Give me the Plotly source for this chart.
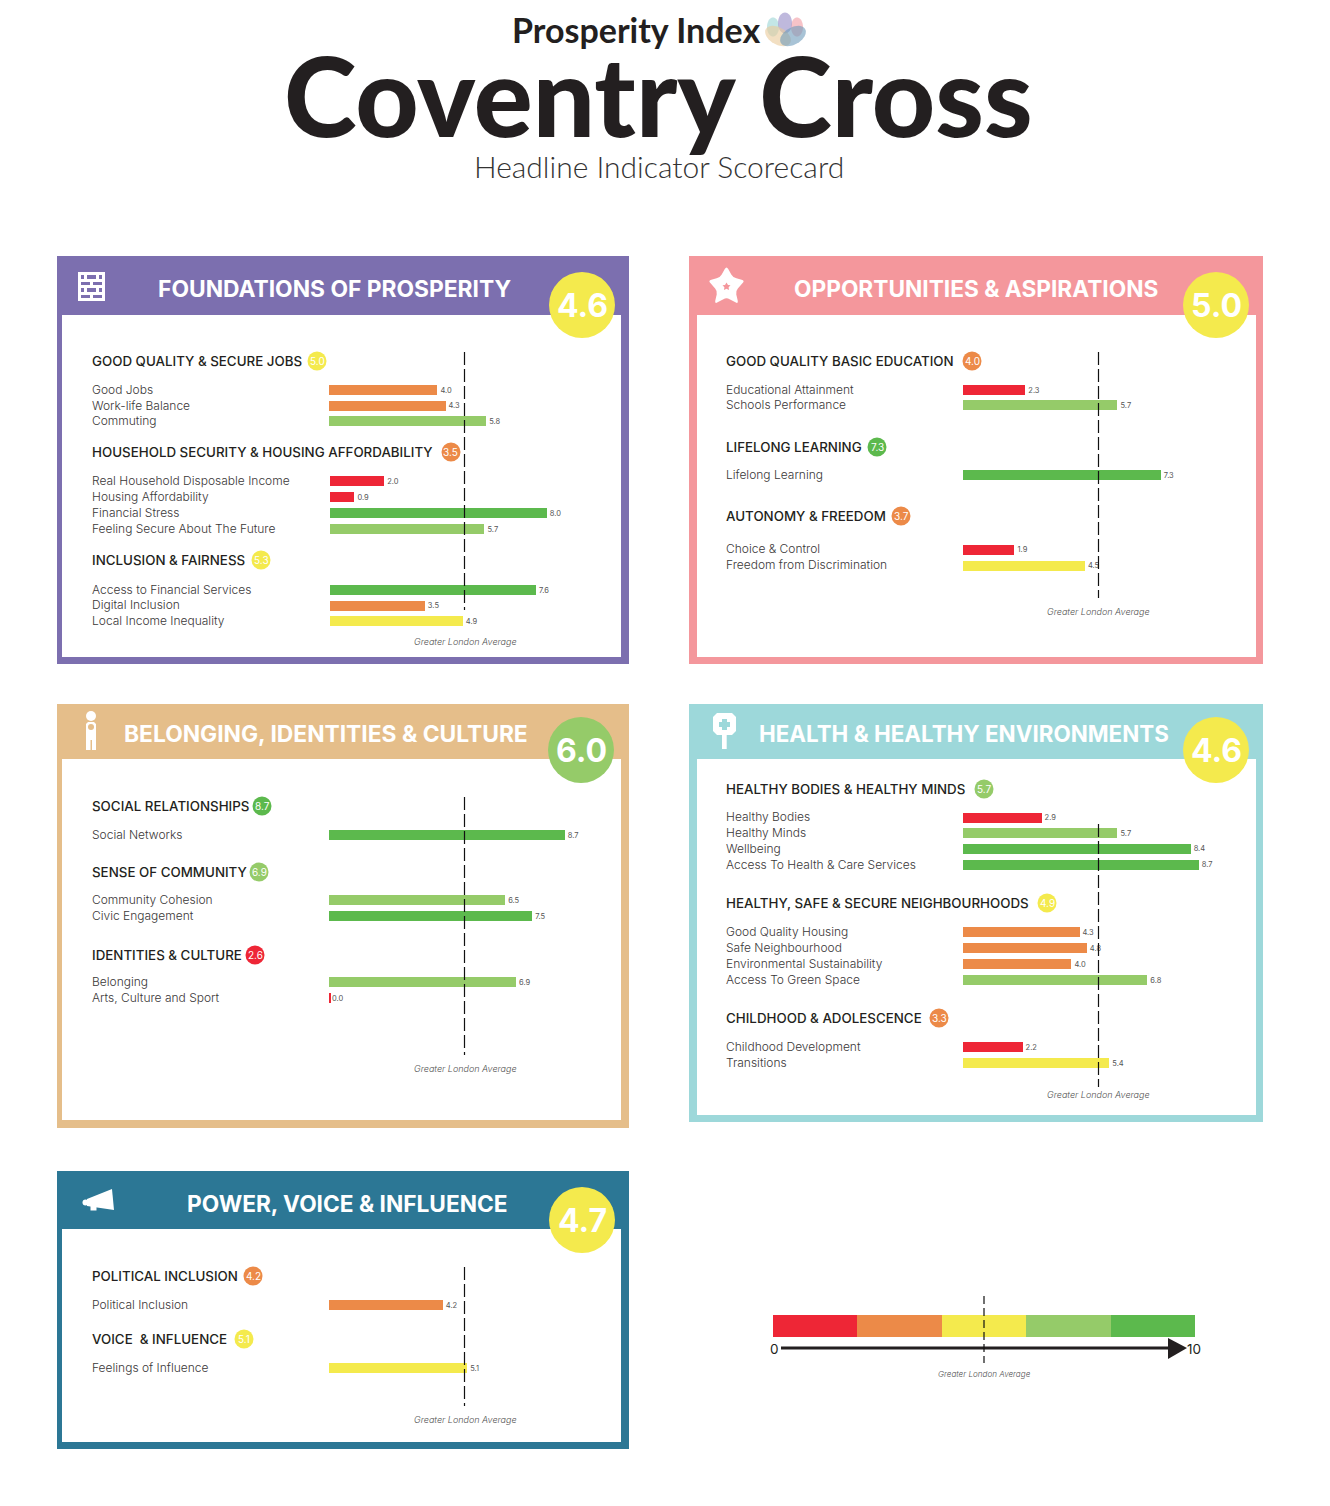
import math
import plotly.graph_objects as go

# ---- data ----
BAND = {"R": "#EE2636", "O": "#EC8A48", "Y": "#F4EA4D", "L": "#95CB69", "G": "#5CB94D"}

PANEL_TITLES = ["FOUNDATIONS OF PROSPERITY", "OPPORTUNITIES & ASPIRATIONS", "BELONGING, IDENTITIES & CULTURE",
                "HEALTH & HEALTHY ENVIRONMENTS", "POWER, VOICE & INFLUENCE"]
PANEL_SCORES = [4.6, 5.0, 6.0, 4.6, 4.7]
PANEL_SCORE_BANDS = ["Y", "Y", "L", "Y", "Y"]

JOBS_ROWS = ["Good Jobs", "Work-life Balance", "Commuting"]
JOBS_VALUES = [4.0, 4.3, 5.8]
JOBS_BANDS = ["O", "O", "L"]
HOUSE_ROWS = ["Real Household Disposable Income", "Housing Affordability", "Financial Stress", "Feeling Secure About The Future"]
HOUSE_VALUES = [2.0, 0.9, 8.0, 5.7]
HOUSE_BANDS = ["R", "R", "G", "L"]
FAIR_ROWS = ["Access to Financial Services", "Digital Inclusion", "Local Income Inequality"]
FAIR_VALUES = [7.6, 3.5, 4.9]
FAIR_BANDS = ["G", "O", "Y"]

EDU_ROWS = ["Educational Attainment", "Schools Performance"]
EDU_VALUES = [2.3, 5.7]
EDU_BANDS = ["R", "L"]
LEARN_ROWS = ["Lifelong Learning"]
LEARN_VALUES = [7.3]
LEARN_BANDS = ["G"]
AUTO_ROWS = ["Choice & Control", "Freedom from Discrimination"]
AUTO_VALUES = [1.9, 4.5]
AUTO_BANDS = ["R", "Y"]

SOCIAL_ROWS = ["Social Networks"]
SOCIAL_VALUES = [8.7]
SOCIAL_BANDS = ["G"]
COMM_ROWS = ["Community Cohesion", "Civic Engagement"]
COMM_VALUES = [6.5, 7.5]
COMM_BANDS = ["L", "G"]
IDENT_ROWS = ["Belonging", "Arts, Culture and Sport"]
IDENT_VALUES = [6.9, 0.0]
IDENT_BANDS = ["L", "R"]

BODY_ROWS = ["Healthy Bodies", "Healthy Minds", "Wellbeing", "Access To Health & Care Services"]
BODY_VALUES = [2.9, 5.7, 8.4, 8.7]
BODY_BANDS = ["R", "L", "G", "G"]
SAFE_ROWS = ["Good Quality Housing", "Safe Neighbourhood", "Environmental Sustainability", "Access To Green Space"]
SAFE_VALUES = [4.3, 4.57, 4.0, 6.8]
SAFE_BANDS = ["O", "O", "O", "L"]
CHILD_ROWS = ["Childhood Development", "Transitions"]
CHILD_VALUES = [2.2, 5.4]
CHILD_BANDS = ["R", "Y"]

POL_ROWS = ["Political Inclusion"]
POL_VALUES = [4.2]
POL_BANDS = ["O"]
VOICE_ROWS = ["Feelings of Influence"]
VOICE_VALUES = [5.1]
VOICE_BANDS = ["Y"]

# printed label differs from the drawn bar length
LABEL_OVERRIDES = {"Safe Neighbourhood": "4.8"}

LEGEND_STEPS = [2, 2, 2, 2, 2]
LEGEND_BANDS = ["R", "O", "Y", "L", "G"]
GREATER_LONDON_AVERAGE = 5.0

# ---- layout in page pixels ----
W, H = 1330, 1506
PX_PER_UNIT = 27.1
INK = "#231F20"
BODY = "#3A3738"
HEAD_FONT = "Inter"
BIG_FONT = "Lato"

def fx(x): return x / W
def fy(y): return 1 - y / H

PANELS = [
    dict(color="#7C6FAF", outer=(57, 256, 629, 664), inner=(62, 315, 621, 657), cx=334.5, ty=288, circ=(582, 305),
         dash=(352, 610), foot=(465, 641.5), x0=329, tx=91, tsize=22.8),
    dict(color="#F4979C", outer=(689, 256, 1263, 664), inner=(697, 315, 1256, 657), cx=976, ty=288, circ=(1216, 305),
         dash=(352, 598), foot=(1098.5, 611.5), x0=963, tx=724.5, tsize=22.7),
    dict(color="#E5BE8A", outer=(57, 704, 629, 1128), inner=(62, 759, 621, 1120), cx=325.5, ty=733, circ=(581, 750),
         dash=(797, 1055), foot=(465, 1068.5), x0=329, tx=91, tsize=22.8),
    dict(color="#9DD8DA", outer=(689, 704, 1263, 1122), inner=(697, 759, 1256, 1115), cx=964, ty=733, circ=(1216, 750),
         dash=(824, 1087), foot=(1098.5, 1094.5), x0=963, tx=724.5, tsize=22.4),
    dict(color="#2C7795", outer=(57, 1171, 629, 1449), inner=(62, 1229, 621, 1442), cx=347.5, ty=1203, circ=(582, 1220),
         dash=(1267, 1406), foot=(465, 1419.5), x0=329, tx=91, tsize=22.7),
]

# panel, heading, score, score band, rows, values, bands, heading y, bubble x, first row y, row pitch, x shift
GROUPS = [
    (0, "GOOD QUALITY & SECURE JOBS", 5.0, "Y", JOBS_ROWS, JOBS_VALUES, JOBS_BANDS, 361, 317, 390, 15.6, 0),
    (0, "HOUSEHOLD SECURITY & HOUSING AFFORDABILITY", 3.5, "O", HOUSE_ROWS, HOUSE_VALUES, HOUSE_BANDS, 452, 451, 481, 16, 1),
    (0, "INCLUSION & FAIRNESS", 5.3, "Y", FAIR_ROWS, FAIR_VALUES, FAIR_BANDS, 560, 261, 590, 15.5, 1),
    (1, "GOOD QUALITY BASIC EDUCATION", 4.0, "O", EDU_ROWS, EDU_VALUES, EDU_BANDS, 361, 972, 390, 15, 0),
    (1, "LIFELONG LEARNING", 7.3, "G", LEARN_ROWS, LEARN_VALUES, LEARN_BANDS, 447, 877, 475, 16, 0),
    (1, "AUTONOMY & FREEDOM", 3.7, "O", AUTO_ROWS, AUTO_VALUES, AUTO_BANDS, 516, 901, 549.5, 16, 0),
    (2, "SOCIAL RELATIONSHIPS", 8.7, "G", SOCIAL_ROWS, SOCIAL_VALUES, SOCIAL_BANDS, 806, 262, 835, 16, 0),
    (2, "SENSE OF COMMUNITY", 6.9, "L", COMM_ROWS, COMM_VALUES, COMM_BANDS, 872, 259, 900, 16, 0),
    (2, "IDENTITIES & CULTURE", 2.6, "R", IDENT_ROWS, IDENT_VALUES, IDENT_BANDS, 955, 255, 982, 16, 0),
    (3, "HEALTHY BODIES & HEALTHY MINDS", 5.7, "L", BODY_ROWS, BODY_VALUES, BODY_BANDS, 789, 984, 817.5, 15.7, 0),
    (3, "HEALTHY, SAFE & SECURE NEIGHBOURHOODS", 4.9, "Y", SAFE_ROWS, SAFE_VALUES, SAFE_BANDS, 903, 1047, 932, 16, 0),
    (3, "CHILDHOOD & ADOLESCENCE", 3.3, "O", CHILD_ROWS, CHILD_VALUES, CHILD_BANDS, 1018, 939, 1047, 16, 0),
    (4, "POLITICAL INCLUSION", 4.2, "O", POL_ROWS, POL_VALUES, POL_BANDS, 1276, 253, 1305, 16, 0),
    (4, "VOICE  & INFLUENCE", 5.1, "Y", VOICE_ROWS, VOICE_VALUES, VOICE_BANDS, 1339, 244, 1368, 16, 0),
]

fig = go.Figure()
shapes, annos = [], []

def note(text, x, y, size, color=INK, anchor="center", family=HEAD_FONT, weight=400, style="normal", yref="paper"):
    annos.append(dict(text=text, xref="paper", x=fx(x), yref=yref, y=(fy(y) if yref == "paper" else None),
                      xanchor=anchor, yanchor="middle", showarrow=False, borderpad=0,
                      font=dict(family=family, size=size, color=color, weight=weight, style=style)))

def rect(x0, y0, x1, y1, color, layer="above"):
    shapes.append(dict(type="rect", xref="paper", yref="paper", x0=fx(x0), x1=fx(x1), y0=fy(y0), y1=fy(y1),
                       fillcolor=color, line_width=0, layer=layer))

def circle(cx, cy, r, color, ry=None):
    ry = ry or r
    shapes.append(dict(type="circle", xref="paper", yref="paper", x0=fx(cx - r), x1=fx(cx + r), y0=fy(cy - ry), y1=fy(cy + ry),
                       fillcolor=color, line_width=0, layer="above"))

def path(points, color, opacity=1.0, rounded=0.0):
    if rounded:
        d, n = "", len(points)
        for i, (x, y) in enumerate(points):
            px_, py_ = points[i - 1]
            nx, ny = points[(i + 1) % n]
            a = math.hypot(px_ - x, py_ - y)
            b = math.hypot(nx - x, ny - y)
            r = min(rounded, a / 2, b / 2)
            s = (x + (px_ - x) * r / a, y + (py_ - y) * r / a)
            e = (x + (nx - x) * r / b, y + (ny - y) * r / b)
            d += ("L" if i else "M") + f"{fx(s[0]):.5f},{fy(s[1]):.5f}"
            d += f" Q{fx(x):.5f},{fy(y):.5f} {fx(e[0]):.5f},{fy(e[1]):.5f} "
        d += "Z"
    else:
        d = "M" + " L".join(f"{fx(x):.5f},{fy(y):.5f}" for x, y in points) + " Z"
    shapes.append(dict(type="path", path=d, xref="paper", yref="paper", fillcolor=color, line_width=0,
                       opacity=opacity, layer="above"))

def ellipse(cx, cy, rx, ry, deg, color, opacity):
    t = math.radians(deg)
    pts = []
    for k in range(40):
        a = 2 * math.pi * k / 40
        u, v = rx * math.cos(a), ry * math.sin(a)
        pts.append((cx + u * math.cos(t) - v * math.sin(t), cy + u * math.sin(t) + v * math.cos(t)))
    path(pts, color, opacity)

# panels
for p, title, score, band in zip(PANELS, PANEL_TITLES, PANEL_SCORES, PANEL_SCORE_BANDS):
    o, i = p["outer"], p["inner"]
    rect(*o, p["color"], "below")
    rect(*i, "#FFFFFF", "below")
    note(title, p["cx"], p["ty"], p["tsize"], "#FFFFFF", weight=700)
    circle(*p["circ"], 33, BAND[band])
    note(f"{score:.1f}", p["circ"][0], p["circ"][1], 32, "#FFFFFF", weight=700)
    note("Greater London Average", p["foot"][0], p["foot"][1], 9.0, "#555555", weight=300, style="italic")

# groups
first_axis_of_panel = {}
axes = {}
for n, (pi, head, score, band, rows, values, bands, hy, bx, ry0, pitch, shift) in enumerate(GROUPS, start=1):
    p = PANELS[pi]
    suffix = "" if n == 1 else str(n)
    x0 = p["x0"] + shift
    top = ry0 - pitch / 2
    bottom = ry0 + pitch * (len(rows) - 0.5)
    axes[f"xaxis{suffix}"] = dict(domain=[fx(x0), fx(x0 + PX_PER_UNIT * 10)], range=[0, 10], visible=False,
                                  fixedrange=True, anchor=f"y{suffix}")
    axes[f"yaxis{suffix}"] = dict(domain=[fy(bottom), fy(top)], type="category", categoryarray=rows,
                                  categoryorder="array", range=[len(rows) - 0.5, -0.5], visible=False,
                                  fixedrange=True, anchor=f"x{suffix}")
    labels = [LABEL_OVERRIDES.get(r, f"{v:.1f}") for r, v in zip(rows, values)]
    colors = [BAND[b] for b in bands]
    fig.add_trace(go.Bar(y=rows, x=values, orientation="h", xaxis=f"x{suffix}", yaxis=f"y{suffix}",
                         width=10 / pitch, text=labels, textposition="outside", cliponaxis=False,
                         constraintext="none", textfont=dict(family=HEAD_FONT, size=7.5, color="#555555"),
                         marker=dict(color=colors, line=dict(color=colors, width=[3 if v == 0 else 0 for v in values])),
                         hoverinfo="skip"))
    first_axis_of_panel.setdefault(pi, f"x{suffix}")
    note(head, p["tx"], hy, 13.35, INK, weight=500)
    annos[-1]["xanchor"] = "left"
    circle(bx, hy, 9.5, BAND[band])
    note(f"{score:.1f}", bx, hy, 10, "#FFFFFF", weight=400)
    for r in rows:
        note(r, p["tx"], None, 12.0, BODY, "left", weight=300, yref=f"y{suffix}")
        annos[-1]["y"] = r
        annos[-1]["yshift"] = 0.6

# dashed average lines
for pi, p in enumerate(PANELS):
    shapes.append(dict(type="line", xref=first_axis_of_panel[pi], yref="paper",
                       x0=GREATER_LONDON_AVERAGE, x1=GREATER_LONDON_AVERAGE,
                       y0=fy(p["dash"][0]), y1=fy(p["dash"][1]),
                       line=dict(color="#111111", width=1.2, dash="13px,4px"), layer="above"))

# legend scale
ln = len(GROUPS) + 1
axes[f"xaxis{ln}"] = dict(domain=[fx(773), fx(1195)], range=[0, 10], visible=False, fixedrange=True, anchor=f"y{ln}")
axes[f"yaxis{ln}"] = dict(domain=[fy(1337), fy(1315)], type="category", range=[-0.5, 0.5], visible=False,
                          fixedrange=True, anchor=f"x{ln}")
for step, b in zip(LEGEND_STEPS, LEGEND_BANDS):
    fig.add_trace(go.Bar(y=["scale"], x=[step], orientation="h", xaxis=f"x{ln}", yaxis=f"y{ln}", width=1,
                         marker=dict(color=BAND[b], line_width=0), hoverinfo="skip"))
shapes.append(dict(type="line", xref="paper", yref="paper", x0=fx(781), x1=fx(1172), y0=fy(1348), y1=fy(1348),
                   line=dict(color=INK, width=3), layer="above"))
path([(1168, 1338), (1187, 1348), (1168, 1359)], INK)
shapes.append(dict(type="line", xref=f"x{ln}", yref="paper", x0=GREATER_LONDON_AVERAGE, x1=GREATER_LONDON_AVERAGE,
                   y0=fy(1296), y1=fy(1363), line=dict(color="#111111", width=1.2, dash="8px,4px"), layer="above"))
note("0", 774, 1349, 13.5, INK, weight=400)
note("10", 1194, 1349, 13.5, INK, weight=400)
note("Greater London Average", 984, 1374, 8.1, "#555555", weight=300, style="italic")

# page header
note("Prosperity Index", 636, 30, 34, INK, family=BIG_FONT, weight=700)
note("Coventry Cross", 658, 94, 110, INK, family=BIG_FONT, weight=900)
note("Headline Indicator Scorecard", 659, 165.5, 30, "#333333", family=BIG_FONT, weight=300)

# logo petals
ellipse(773, 27, 6, 9.5, 0, "#A9DCDC", 0.7)
ellipse(797, 27, 6, 9.5, 0, "#F4AAB0", 0.7)
ellipse(785, 23, 7, 10.5, 0, "#9C93CB", 0.65)
ellipse(778, 36, 14, 8.5, 30, "#EAC99A", 0.6)
ellipse(793, 36, 14, 8.5, -30, "#6E9BBB", 0.6)

# icons
c = PANELS[0]["color"]
rect(78, 272, 105, 301, "#FFFFFF")
for y0, y1, spans in [(275, 279, [(81, 84), (87, 96), (99, 102)]), (282, 285, [(81, 90), (93, 102)]),
                      (288, 292, [(81, 84), (87, 96), (99, 102)]), (295, 298, [(81, 90), (93, 102)])]:
    for a, b in spans:
        rect(a, y0, b, y1, c)

path([(726.5, 266), (733, 277.5), (745, 280.5), (735.5, 291), (738.5, 304), (726.5, 297.5), (714.5, 304),
      (717.5, 291), (708, 280.5), (720, 277.5)], "#FFFFFF", rounded=3.5)
path([(726.5, 282.5), (728, 285), (730.5, 285.3), (728.6, 287.2), (729, 290), (726.5, 288.7), (724, 290),
      (724.4, 287.2), (722.5, 285.3), (725, 285)], PANELS[1]["color"])

circle(91, 716, 5, "#FFFFFF")
path([(86, 724), (88, 722), (94, 722), (96, 724), (96, 750), (92, 750), (92, 740), (90.5, 740), (90.5, 750), (86, 750)], "#FFFFFF")
circle(91, 727, 3, PANELS[2]["color"])

path([(717, 713), (732, 713), (736, 717), (736, 731), (732, 735), (717, 735), (713, 731), (713, 717)], "#FFFFFF")
rect(722, 735, 726.7, 749, "#FFFFFF")
path([(722, 719), (727, 719), (727, 722), (730, 722), (730, 727), (727, 727), (727, 730), (722, 730), (722, 727),
      (719, 727), (719, 722), (722, 722)], PANELS[3]["color"])

path([(112, 1189), (114, 1210), (87, 1206), (87, 1199)], "#FFFFFF")
circle(85.5, 1202.5, 3, "#FFFFFF")
rect(90.5, 1206, 96.5, 1210.5, "#FFFFFF")

fig.update_layout(width=W, height=H, margin=dict(l=0, r=0, t=0, b=0), autosize=False,
                  paper_bgcolor="#FFFFFF", plot_bgcolor="rgba(0,0,0,0)", showlegend=False,
                  barmode="stack", shapes=shapes, annotations=annos, **axes)
fig.write_html("out.html", post_script="document.body.style.margin='0';document.body.style.overflow='hidden';",
               config=dict(displayModeBar=False))
